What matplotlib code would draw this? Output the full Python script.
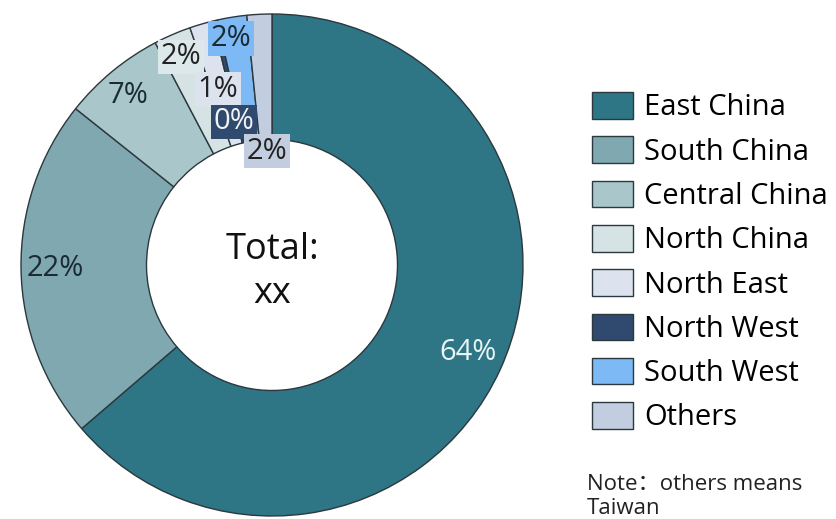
import matplotlib
matplotlib.use('Agg')
import matplotlib.pyplot as plt

plt.rcParams['font.family'] = ['Open Sans', 'Noto Sans CJK SC', 'DejaVu Sans']

# data
regions = ['East China', 'South China', 'Central China', 'North China',
           'North East', 'North West', 'South West', 'Others']
shares = [63.7, 22.0, 6.6, 2.4, 1.5, 0.3, 1.9, 1.6]
pct_labels = ['64%', '22%', '7%', '2%', '1%', '0%', '2%', '2%']
colors = ['#2e7585', '#7fa8b0', '#a9c6ca', '#d6e3e5',
          '#dce3ee', '#2f4a6e', '#7db9f5', '#c2cedf']

# where the original put each label by hand (pie radius = 1)
lab_x = [0.781, -0.865, -0.574, -0.363, -0.215, -0.151, -0.163, -0.020]
lab_y = [-0.347, -0.012, 0.677, 0.829, 0.701, 0.570, 0.904, 0.454]
lab_color = ['#e8f4f6', '#1a2b33', '#1a2b33', '#222222', '#222222', '#f2f2f2', '#1a2b33', '#222222']
lab_bg = [None, None, None, '#dde8ea', '#dce3ee', '#2f4a6e', '#7db9f5', '#c2cedf']

W, H = 836, 519
fig = plt.figure(figsize=(W / 100, H / 100), dpi=100)
cx, cy, R = 272, 265, 251
ax = fig.add_axes([(cx - R) / W, (H - cy - R) / H, 2 * R / W, 2 * R / H])

wedges, _ = ax.pie(shares, colors=colors, startangle=90, counterclock=False,
                   radius=1.0,
                   wedgeprops=dict(width=0.5, edgecolor='#2b383d', linewidth=1.0))
ax.set_xlim(-1, 1)
ax.set_ylim(-1, 1)
ax.axis('off')

for i, txt in enumerate(pct_labels):
    bbox = None
    if lab_bg[i] is not None:
        bbox = dict(boxstyle='square,pad=0.1', facecolor=lab_bg[i], edgecolor='none')
    ax.text(lab_x[i], lab_y[i], txt, ha='center', va='center', fontsize=21,
            color=lab_color[i], bbox=bbox)

# centre text
ax.text(0, 6 / R, 'Total:', ha='center', va='baseline', fontsize=26, color='#111111')
ax.text(0, -38 / R, 'xx', ha='center', va='baseline', fontsize=26, color='#111111')

fig.legend(wedges, regions, loc='upper left', bbox_to_anchor=(592 / W, 1 - 92 / H),
           frameon=False, fontsize=21, handlelength=1.40, handleheight=1.03,
           handletextpad=0.38, labelspacing=0.48, borderaxespad=0, borderpad=0)

# note sits at the very bottom, as in the original
fig.text(587 / W, 1 - 490 / H, 'Note：others means', ha='left', va='baseline',
         fontsize=16, color='#222222')
fig.text(587 / W, 1 - 514 / H, 'Taiwan', ha='left', va='baseline',
         fontsize=16, color='#222222')

fig.savefig('out.png', dpi=100, facecolor='white')
